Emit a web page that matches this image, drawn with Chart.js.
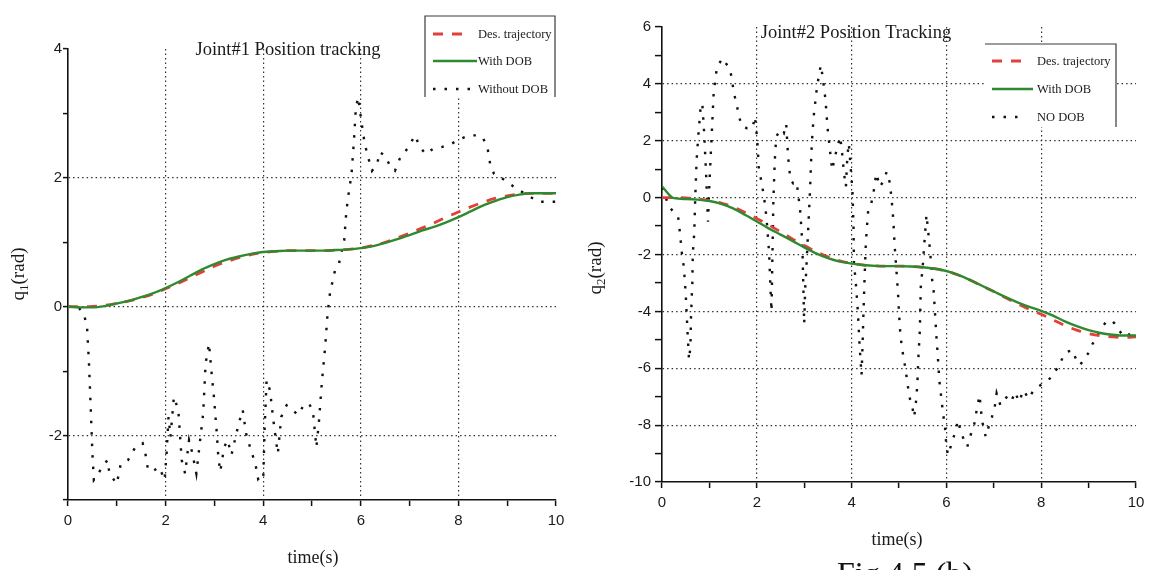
<!DOCTYPE html>
<html>
<head>
<meta charset="utf-8">
<title>Joint position tracking</title>
<script src="https://cdn.jsdelivr.net/npm/chart.js@4.4.1/dist/chart.umd.min.js"></script>
<style>
  html, body { margin: 0; padding: 0; background: #fff; }
  #wrap { position: relative; width: 1163px; height: 570px; overflow: hidden; background: #fff; }
  .panel { position: absolute; top: 0; height: 570px; }
  #p1 { left: 0; width: 580px; }
  #p2 { left: 580px; width: 583px; }
  canvas { display: block; }
</style>
</head>
<body>
<div id="wrap">
  <div class="panel" id="p1"><canvas id="c1" width="580" height="570"></canvas></div>
  <div class="panel" id="p2"><canvas id="c2" width="583" height="570"></canvas></div>
</div>
<script>
// ---- time base for the smooth trajectories (s) ----
const tGrid = [0, 0.25, 0.5, 0.75, 1, 1.25, 1.5, 1.75, 2, 2.25, 2.5, 2.75, 3, 3.25, 3.5, 3.75,
  4, 4.25, 4.5, 4.75, 5, 5.25, 5.5, 5.75, 6, 6.25, 6.5, 6.75, 7, 7.25, 7.5, 7.75,
  8, 8.25, 8.5, 8.75, 9, 9.25, 9.5, 9.75, 10];

// ---- Joint #1 (rad) ----
const q1Desired = [0, 0, 0.005, 0.02, 0.05, 0.09, 0.14, 0.2, 0.28, 0.36, 0.45, 0.54, 0.63, 0.7, 0.76, 0.81,
  0.84, 0.86, 0.87, 0.87, 0.87, 0.87, 0.88, 0.89, 0.91, 0.95, 1.0, 1.07, 1.14, 1.22, 1.3, 1.39,
  1.47, 1.55, 1.62, 1.68, 1.72, 1.75, 1.76, 1.76, 1.76];
const q1WithDob = [0, -0.01, -0.01, 0.01, 0.05, 0.09, 0.15, 0.21, 0.29, 0.38, 0.48, 0.58, 0.66, 0.73, 0.78, 0.82,
  0.85, 0.86, 0.87, 0.87, 0.87, 0.87, 0.88, 0.89, 0.91, 0.94, 0.99, 1.05, 1.11, 1.18, 1.24, 1.31,
  1.39, 1.48, 1.57, 1.64, 1.7, 1.74, 1.76, 1.76, 1.76];
// [t, q] samples of the response without the disturbance observer
const q1NoDob = [[0,0],[0.2,0],[0.32,-0.1],[0.39,-0.31],[0.43,-0.88],[0.47,-1.66],[0.5,-2.28],[0.53,-2.69],
  [0.58,-2.64],[0.7,-2.49],[0.81,-2.38],[0.85,-2.59],[1.0,-2.75],[1.08,-2.44],[1.23,-2.38],[1.38,-2.18],
  [1.53,-2.12],[1.6,-2.33],[1.64,-2.54],[1.76,-2.54],[1.87,-2.49],[1.98,-2.69],[2.02,-2.28],[2.06,-1.71],
  [2.1,-2.02],[2.17,-1.4],[2.26,-1.6],[2.33,-2.38],[2.4,-2.59],[2.48,-2.07],[2.55,-2.28],[2.63,-2.59],
  [2.7,-2.12],[2.77,-1.66],[2.82,-0.88],[2.89,-0.57],[2.93,-0.93],[2.99,-1.4],[3.05,-1.97],[3.08,-2.33],
  [3.12,-2.56],[3.2,-2.18],[3.27,-2.07],[3.35,-2.3],[3.45,-1.97],[3.5,-1.81],[3.58,-1.6],[3.65,-1.97],
  [3.75,-2.23],[3.84,-2.44],[3.9,-2.69],[4.0,-2.69],[4.03,-1.87],[4.07,-1.14],[4.14,-1.3],[4.2,-1.71],
  [4.26,-2.07],[4.3,-2.28],[4.37,-1.71],[4.48,-1.53],[4.6,-1.6],[4.71,-1.68],[4.83,-1.53],[4.94,-1.5],
  [5.02,-1.63],[5.05,-1.87],[5.09,-2.18],[5.14,-1.81],[5.2,-1.19],[5.27,-0.62],[5.32,-0.1],[5.37,0.22],
  [5.47,0.56],[5.55,0.66],[5.66,1.03],[5.7,1.44],[5.73,1.65],[5.81,2.06],[5.86,2.58],[5.9,3.1],
  [5.95,3.25],[6.0,2.94],[6.08,2.53],[6.15,2.32],[6.23,2.11],[6.34,2.22],[6.38,2.4],[6.49,2.35],
  [6.61,2.17],[6.7,2.11],[6.8,2.3],[6.98,2.48],[7.11,2.66],[7.21,2.48],[7.33,2.37],[7.48,2.45],
  [7.67,2.48],[7.86,2.53],[8.05,2.61],[8.23,2.66],[8.39,2.66],[8.5,2.63],[8.6,2.45],[8.65,2.22],
  [8.73,2.06],[8.92,1.98],[9.16,1.85],[9.37,1.75],[9.64,1.63],[9.86,1.63],[10,1.63]];

// ---- Joint #2 (rad) ----
const q2Desired = [0, 0, -0.01, -0.04, -0.1, -0.19, -0.33, -0.52, -0.73, -0.96, -1.2, -1.45, -1.68, -1.9, -2.08, -2.22,
  -2.31, -2.37, -2.4, -2.41, -2.41, -2.42, -2.45, -2.5, -2.58, -2.72, -2.9, -3.1, -3.3, -3.52, -3.73, -3.93,
  -4.1, -4.3, -4.5, -4.66, -4.78, -4.86, -4.9, -4.92, -4.9];
const q2WithDob = [0.4, -0.02, -0.05, -0.07, -0.12, -0.22, -0.38, -0.6, -0.84, -1.08, -1.3, -1.52, -1.75, -1.96, -2.13, -2.25,
  -2.32, -2.37, -2.4, -2.41, -2.41, -2.42, -2.45, -2.5, -2.58, -2.72, -2.9, -3.1, -3.3, -3.5, -3.68, -3.84,
  -3.98, -4.15, -4.35, -4.52, -4.66, -4.76, -4.82, -4.85, -4.85];
const q2NoDob = [[0,0.35],[0.15,-0.32],[0.27,-0.55],[0.34,-0.67],[0.38,-1.26],[0.42,-1.96],[0.46,-2.43],[0.5,-3.37],
  [0.52,-4.07],[0.54,-4.78],[0.57,-5.7],[0.6,-5.24],[0.61,-4.3],[0.63,-3.37],[0.64,-3.0],[0.65,-1.96],
  [0.68,-1.26],[0.7,-0.08],[0.73,1.32],[0.77,2.26],[0.81,3.08],[0.85,3.32],[0.89,2.26],[0.93,0.85],
  [0.97,-0.85],[1.0,0.5],[1.05,2.26],[1.09,3.67],[1.16,4.6],[1.28,4.9],[1.44,4.49],[1.52,3.67],
  [1.6,3.08],[1.67,2.55],[1.79,2.44],[1.91,2.44],[1.96,2.85],[2.01,2.03],[2.04,1.09],[2.09,0.62],
  [2.14,0.15],[2.18,-0.32],[2.22,-1.02],[2.26,-1.96],[2.29,-3.25],[2.31,-4.0],[2.33,-2.0],[2.35,-0.08],
  [2.38,1.32],[2.41,2.14],[2.49,2.38],[2.57,2.26],[2.62,2.6],[2.66,1.44],[2.71,0.62],[2.77,0.5],
  [2.84,0.56],[2.88,0.03],[2.92,-0.55],[2.96,-1.61],[2.98,-3.0],[3.0,-4.43],[3.02,-3.2],[3.04,-2.66],
  [3.08,-1.26],[3.12,0.15],[3.16,1.91],[3.2,2.85],[3.27,3.9],[3.35,4.66],[3.39,4.25],[3.45,3.43],
  [3.49,2.5],[3.55,1.56],[3.59,0.97],[3.65,1.44],[3.7,1.79],[3.76,2.14],[3.8,1.56],[3.84,0.85],
  [3.88,0.38],[3.91,1.44],[3.94,1.91],[3.98,1.09],[4.02,0.15],[4.04,-1.02],[4.05,-2.31],[4.09,-3.02],
  [4.13,-3.95],[4.17,-5.24],[4.21,-6.24],[4.23,-5.24],[4.25,-4.07],[4.27,-3.02],[4.3,-1.61],[4.35,-0.44],
  [4.4,-0.32],[4.46,0.15],[4.52,0.85],[4.6,0.38],[4.68,0.62],[4.74,0.91],[4.8,0.56],[4.84,0.03],
  [4.88,-0.79],[4.91,-1.73],[4.95,-2.66],[4.98,-3.37],[5.0,-4.07],[5.03,-4.84],[5.07,-5.36],[5.13,-5.95],
  [5.19,-6.66],[5.23,-7.07],[5.28,-7.36],[5.32,-7.72],[5.37,-7.0],[5.39,-6.4],[5.41,-5.6],[5.44,-4.66],
  [5.46,-3.13],[5.5,-2.43],[5.54,-1.49],[5.58,-0.6],[5.62,-1.26],[5.66,-1.96],[5.7,-2.9],[5.73,-3.25],
  [5.76,-4.07],[5.79,-4.9],[5.82,-5.6],[5.85,-6.42],[5.89,-7.0],[5.93,-7.6],[5.97,-8.06],[5.99,-8.53],
  [6.03,-9.05],[6.09,-8.76],[6.13,-8.53],[6.2,-8.18],[6.24,-7.83],[6.32,-8.3],[6.4,-8.65],[6.44,-8.76],
  [6.52,-8.3],[6.59,-7.95],[6.65,-7.36],[6.7,-6.95],[6.75,-7.83],[6.83,-8.41],[6.91,-7.95],[6.96,-7.72],
  [7.02,-7.36],[7.06,-6.88],[7.14,-7.3],[7.22,-7.12],[7.3,-6.95],[7.38,-7.12],[7.45,-6.83],[7.53,-7.18],
  [7.63,-6.77],[7.73,-7.07],[7.82,-6.83],[7.92,-6.66],[8.04,-6.54],[8.23,-6.3],[8.31,-6.07],[8.39,-5.89],
  [8.47,-5.54],[8.55,-5.42],[8.66,-5.36],[8.74,-5.71],[8.82,-5.89],[8.91,-5.66],[8.99,-5.48],[9.05,-5.24],
  [9.13,-5.01],[9.21,-4.78],[9.29,-4.54],[9.37,-4.37],[9.48,-4.31],[9.55,-4.43],[9.64,-4.66],[9.72,-4.84],
  [9.8,-4.9],[9.91,-4.72],[10,-4.8]];

// ---- axis ticks ----
const timeTicksLabelled = [0, 2, 4, 6, 8, 10];
const timeGrid = [2, 4, 6, 8];
const q1TicksLabelled = [4, 2, 0, -2];
const q1Grid = [2, 0, -2];
const q2TicksLabelled = [6, 4, 2, 0, -2, -4, -6, -8, -10];
const q2Grid = [4, 2, 0, -2, -4, -6, -8];

// ---- styling ----
const RED = '#e2403a';
const GREEN = '#2f8a2f';
const SERIF = '"Liberation Serif", "Times New Roman", serif';
const SANS = '"Liberation Sans", Arial, sans-serif';

function pairs(t, q) { return t.map((x, i) => ({ x: x, y: q[i] })); }
function pts(p) { return p.map(d => ({ x: d[0], y: d[1] })); }

function makeDatasets(des, dob, noDob, noLabel) {
  return [
    { label: 'With DOB', data: pairs(tGrid, dob), borderColor: GREEN, borderWidth: 2.4,
      cubicInterpolationMode: 'monotone', pointRadius: 0, order: 0 },
    { label: 'Des. trajectory', data: pairs(tGrid, des), borderColor: RED, borderWidth: 2.8,
      borderDash: [10, 9], cubicInterpolationMode: 'monotone', pointRadius: 0, order: 1 },
    { label: noLabel, data: pts(noDob), borderColor: '#111', borderWidth: 2.4,
      borderDash: [2.5, 9], tension: 0, pointRadius: 0, order: 2 }
  ];
}

// text, legend box and axis names drawn on top of the plot
function makeOverlay(spec) {
  return {
    id: 'overlay',
    afterDatasetsDraw(chart) {
      const ctx = chart.ctx;
      const L = spec.legend;
      ctx.save();
      ctx.fillStyle = '#fff';
      ctx.fillRect(L.x0, L.y0, L.x1 - L.x0, L.y1 - L.y0);
      ctx.strokeStyle = '#3a3a3a';
      ctx.lineWidth = 1.2;
      ctx.setLineDash([]);
      ctx.beginPath();
      if (L.leftSide) { ctx.moveTo(L.x0, L.y1); ctx.lineTo(L.x0, L.y0); } else { ctx.moveTo(L.x0, L.y0); }
      ctx.lineTo(L.x1, L.y0);
      ctx.lineTo(L.x1, L.y1);
      ctx.stroke();
      const order = ['Des. trajectory', 'With DOB', spec.noLabel];
      order.forEach((lab, i) => {
        const ds = chart.data.datasets.find(d => d.label === lab);
        const y = L.rows[i];
        ctx.strokeStyle = ds.borderColor;
        ctx.lineWidth = ds.borderWidth;
        ctx.setLineDash(ds.borderDash || []);
        ctx.beginPath();
        ctx.moveTo(L.sx, y);
        ctx.lineTo(L.sx + L.sw[i], y);
        ctx.stroke();
        ctx.setLineDash([]);
        ctx.fillStyle = '#1a1a1a';
        ctx.font = '12.5px ' + SERIF;
        ctx.textBaseline = 'alphabetic';
        ctx.textAlign = 'left';
        ctx.fillText(lab, L.tx, y + 4);
      });
      ctx.restore();
    },
    afterDraw(chart) {
      const ctx = chart.ctx;
      ctx.save();
      ctx.fillStyle = '#1a1a1a';
      ctx.textAlign = 'center';
      ctx.textBaseline = 'alphabetic';
      // title
      ctx.font = '18.5px ' + SERIF;
      ctx.fillText(spec.title, spec.titleX, spec.titleY);
      // x-axis name
      ctx.font = '18px ' + SERIF;
      ctx.fillText('time(s)', spec.xNameX, spec.xNameY);
      // y-axis name with subscript, rotated
      ctx.translate(spec.yNameX, spec.yNameY);
      ctx.rotate(-Math.PI / 2);
      ctx.textAlign = 'left';
      const big = '19px ' + SERIF, small = '13px ' + SERIF;
      ctx.font = big; const wq = ctx.measureText('q').width; const wr = ctx.measureText('(rad)').width;
      ctx.font = small; const ws = ctx.measureText(spec.sub).width;
      let x = -(wq + ws + wr) / 2;
      ctx.font = big; ctx.fillText('q', x, 6); x += wq;
      ctx.font = small; ctx.fillText(spec.sub, x, 10); x += ws;
      ctx.font = big; ctx.fillText('(rad)', x, 6);
      ctx.restore();
      if (spec.caption) {
        ctx.save();
        ctx.fillStyle = '#111';
        ctx.textAlign = 'center';
        ctx.font = '32px ' + SERIF;
        ctx.fillText(spec.caption, spec.captionX, spec.captionY);
        ctx.restore();
      }
    }
  };
}

function axisCommon(labelled, gridVals, tickLen, pad) {
  return {
    type: 'linear',
    ticks: {
      stepSize: 1, autoSkip: false, maxRotation: 0, padding: pad,
      color: '#1a1a1a', font: { family: SANS, size: 15 },
      callback: v => labelled.includes(v) ? String(v) : ''
    },
    grid: {
      color: c => (c.tick && gridVals.includes(c.tick.value)) ? '#333' : 'rgba(0,0,0,0)',
      lineWidth: 1.2, tickColor: '#111', tickLength: tickLen, tickWidth: 1.5,
      drawOnChartArea: true, drawTicks: true
    },
    border: { display: true, color: '#111', width: 1.6, dash: [1.5, 3] }
  };
}

function build(canvasId, spec) {
  const canvas = document.getElementById(canvasId);
  const W = canvas.width, H = canvas.height;
  const A = spec.area;
  const Y_W = 50, X_H = 40;
  const pad = { left: A.left - Y_W, top: A.top, right: W - A.right, bottom: H - A.bottom - X_H };
  const xAxis = axisCommon(timeTicksLabelled, timeGrid, 6, 6);
  xAxis.min = 0; xAxis.max = 10; xAxis.position = 'bottom';
  xAxis.afterFit = s => { s.height = X_H; };
  const yAxis = axisCommon(spec.yLabelled, spec.yGrid, spec.yTickLen, spec.yPad);
  yAxis.min = spec.yMin; yAxis.max = spec.yMax; yAxis.position = 'left';
  yAxis.afterFit = s => { s.width = Y_W; };

  const chart = new Chart(canvas, {
    type: 'line',
    data: { datasets: spec.datasets },
    options: {
      responsive: false, animation: false, devicePixelRatio: 1,
      parsing: true, normalized: true,
      layout: { padding: pad },
      plugins: { legend: { display: false }, tooltip: { enabled: false }, title: { display: false } },
      scales: { x: xAxis, y: yAxis }
    },
    plugins: [makeOverlay(spec)]
  });
  // nudge the padding so the plot area lands on the intended box
  for (let k = 0; k < 3; k++) {
    const a = chart.chartArea;
    const dl = A.left - a.left, dt = A.top - a.top, dr = a.right - A.right, db = a.bottom - A.bottom;
    if (Math.abs(dl) + Math.abs(dt) + Math.abs(dr) + Math.abs(db) < 0.5) break;
    pad.left += dl; pad.top += dt; pad.right += dr; pad.bottom += db;
    chart.options.layout.padding = Object.assign({}, pad);
    chart.update('none');
  }
  return chart;
}

build('c1', {
  area: { left: 68, top: 49, right: 556, bottom: 500 },
  yMin: -3, yMax: 4, yLabelled: q1TicksLabelled, yGrid: q1Grid, yTickLen: 5, yPad: 1,
  datasets: makeDatasets(q1Desired, q1WithDob, q1NoDob, 'Without DOB'),
  noLabel: 'Without DOB',
  title: 'Joint#1 Position tracking', titleX: 288, titleY: 55,
  xNameX: 313, xNameY: 563,
  yNameX: 18, yNameY: 274, sub: '1',
  legend: { x0: 425, y0: 16, x1: 555, y1: 97, leftSide: true,
            rows: [34, 61, 89], sx: 433, sw: [29, 44, 37], tx: 478 }
});

build('c2', {
  area: { left: 82, top: 27, right: 556, bottom: 482 },
  yMin: -10, yMax: 6, yLabelled: q2TicksLabelled, yGrid: q2Grid, yTickLen: 7, yPad: 4,
  datasets: makeDatasets(q2Desired, q2WithDob, q2NoDob, 'NO DOB'),
  noLabel: 'NO DOB',
  title: 'Joint#2 Position Tracking', titleX: 276, titleY: 38,
  xNameX: 317, xNameY: 545,
  yNameX: 15, yNameY: 268, sub: '2',
  legend: { x0: 405, y0: 44, x1: 536, y1: 127, leftSide: false,
            rows: [61, 89, 117], sx: 412, sw: [29, 41, 34], tx: 457 },
  caption: 'Fig 4.5 (b)', captionX: 325, captionY: 584
});
</script>
</body>
</html>
